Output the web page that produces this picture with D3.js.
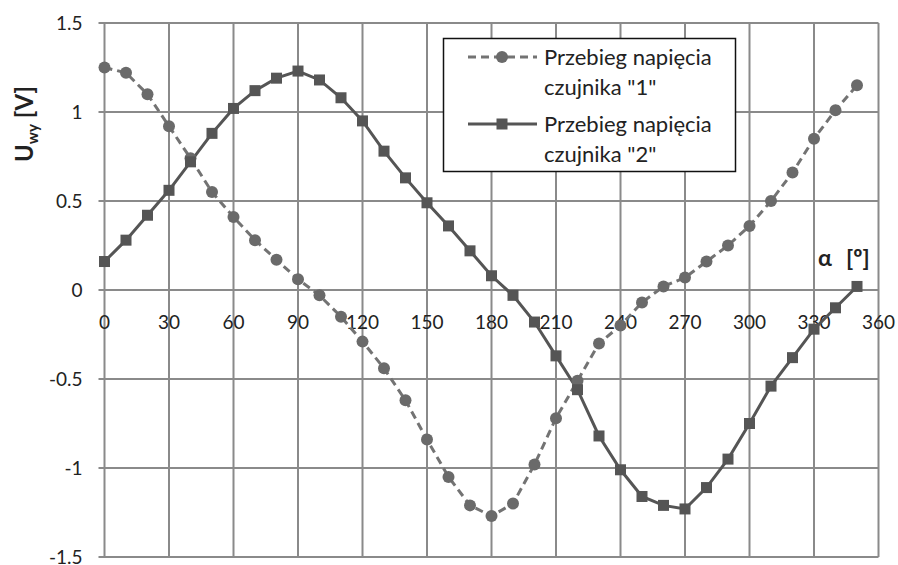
<!DOCTYPE html>
<html>
<head>
<meta charset="utf-8">
<script src="https://cdn.jsdelivr.net/npm/d3@7"></script>
<style>
  body { margin: 0; background: #fff; }
  text { font-family: Lato, "Open Sans", sans-serif; }
</style>
</head>
<body>
<div class="svg-container"></div>
<script>
//Data
const angles = d3.range(0, 360, 10);
const sensor1 = [1.25, 1.22, 1.10, 0.92, 0.74, 0.55, 0.41, 0.28, 0.17, 0.06,
                 -0.03, -0.15, -0.29, -0.44, -0.62, -0.84, -1.05, -1.21, -1.27, -1.20,
                 -0.98, -0.72, -0.51, -0.30, -0.20, -0.07, 0.02, 0.07, 0.16, 0.25,
                 0.36, 0.50, 0.66, 0.85, 1.01, 1.15];
const sensor2 = [0.16, 0.28, 0.42, 0.56, 0.72, 0.88, 1.02, 1.12, 1.19, 1.23,
                 1.18, 1.08, 0.95, 0.78, 0.63, 0.49, 0.36, 0.22, 0.08, -0.03,
                 -0.18, -0.37, -0.56, -0.82, -1.01, -1.16, -1.21, -1.23, -1.11, -0.95,
                 -0.75, -0.54, -0.38, -0.22, -0.10, 0.02];
const xTicks = d3.range(0, 361, 30);
const yTicks = [-1.5, -1, -0.5, 0, 0.5, 1, 1.5];
const legendLabels = [['Przebieg napięcia', 'czujnika "1"'], ['Przebieg napięcia', 'czujnika "2"']];

const W = 898, H = 565;
const margin = {top: 23, right: 20, bottom: 8, left: 104.5};
const width = 878.5 - margin.left;
const height = 557 - margin.top;

const xScale = d3.scaleLinear().domain([0, 360]).range([0, width]);
const yScale = d3.scaleLinear().domain([-1.5, 1.5]).range([height, 0]);

const svg = d3.select('.svg-container')
  .append('svg')
  .attr('width', W)
  .attr('height', H)
  .append('g')
  .attr('transform', `translate(${margin.left}, ${margin.top})`);

const gridColor = '#8a8a8a';

//grid
svg.append('g')
  .selectAll('line')
  .data(xTicks)
  .join('line')
  .attr('x1', d => xScale(d)).attr('x2', d => xScale(d))
  .attr('y1', 0).attr('y2', height)
  .attr('stroke', gridColor).attr('stroke-width', 2);

svg.append('g')
  .selectAll('line')
  .data(yTicks)
  .join('line')
  .attr('x1', -6).attr('x2', width)
  .attr('y1', d => yScale(d)).attr('y2', d => yScale(d))
  .attr('stroke', gridColor).attr('stroke-width', 2);

//y tick labels
svg.append('g')
  .selectAll('text')
  .data(yTicks)
  .join('text')
  .attr('x', -22)
  .attr('y', d => yScale(d))
  .attr('dy', '0.35em')
  .attr('text-anchor', 'end')
  .attr('font-size', 19)
  .attr('fill', '#222')
  .text(d => d);

//x tick labels (below zero line)
svg.append('g')
  .selectAll('text')
  .data(xTicks)
  .join('text')
  .attr('x', d => xScale(d))
  .attr('y', yScale(0) + 32)
  .attr('dy', '0.35em')
  .attr('text-anchor', 'middle')
  .attr('font-size', 19)
  .attr('fill', '#222')
  .text(d => d);

//series
const line1 = d3.line().x((d, i) => xScale(angles[i])).y(d => yScale(d));

svg.append('path')
  .datum(sensor1)
  .attr('d', line1)
  .attr('fill', 'none')
  .attr('stroke', '#737373')
  .attr('stroke-width', 3)
  .attr('stroke-dasharray', '8,5');

svg.append('path')
  .datum(sensor2)
  .attr('d', line1)
  .attr('fill', 'none')
  .attr('stroke', '#555')
  .attr('stroke-width', 3);

svg.append('g')
  .selectAll('circle')
  .data(sensor1)
  .join('circle')
  .attr('cx', (d, i) => xScale(angles[i]))
  .attr('cy', d => yScale(d))
  .attr('r', 6)
  .attr('fill', '#6a6a6a');

svg.append('g')
  .selectAll('rect')
  .data(sensor2)
  .join('rect')
  .attr('x', (d, i) => xScale(angles[i]) - 5.5)
  .attr('y', d => yScale(d) - 5.5)
  .attr('width', 11)
  .attr('height', 11)
  .attr('fill', '#555');

//axis titles
const yTitle = d3.select('svg').append('text')
  .attr('transform', 'translate(33,124) rotate(-90)')
  .attr('text-anchor', 'middle')
  .attr('font-size', 24)
  .attr('font-weight', 'bold')
  .attr('fill', '#222');
yTitle.append('tspan').text('U');
yTitle.append('tspan').attr('font-size', 15).attr('dy', 5).text('wy');
yTitle.append('tspan').attr('dy', -5).text(' [V]');

const alphaTitle = d3.select('svg').append('text')
  .attr('x', 818)
  .attr('y', 266)
  .attr('font-size', 23)
  .attr('font-weight', 'bold')
  .attr('fill', '#222');
alphaTitle.append('tspan').text('α');
alphaTitle.append('tspan').attr('x', 846).text('[º]');

//legend
const legend = d3.select('svg').append('g');
legend.append('rect')
  .attr('x', 443.5).attr('y', 38.5)
  .attr('width', 292).attr('height', 133)
  .attr('fill', '#fff')
  .attr('stroke', '#111')
  .attr('stroke-width', 1.5);

const legendItems = legend.selectAll('.item')
  .data(legendLabels)
  .join('g')
  .attr('class', 'item')
  .attr('transform', (d, i) => `translate(0, ${57 + i * 67})`);

legendItems.append('line')
  .attr('x1', 468).attr('x2', 537)
  .attr('stroke', (d, i) => i === 0 ? '#737373' : '#555')
  .attr('stroke-width', 3)
  .attr('stroke-dasharray', (d, i) => i === 0 ? '8,5' : null);

legendItems.filter((d, i) => i === 0).append('circle')
  .attr('cx', 502).attr('r', 6).attr('fill', '#6a6a6a');
legendItems.filter((d, i) => i === 1).append('rect')
  .attr('x', 496.5).attr('y', -5.5).attr('width', 11).attr('height', 11).attr('fill', '#555');

legendItems.append('text')
  .attr('x', 544)
  .attr('font-size', 22)
  .attr('fill', '#222')
  .selectAll('tspan')
  .data(d => d)
  .join('tspan')
  .attr('x', 544)
  .attr('y', (d, i) => i * 30)
  .attr('dy', '0.35em')
  .text(d => d);
</script>
</body>
</html>
